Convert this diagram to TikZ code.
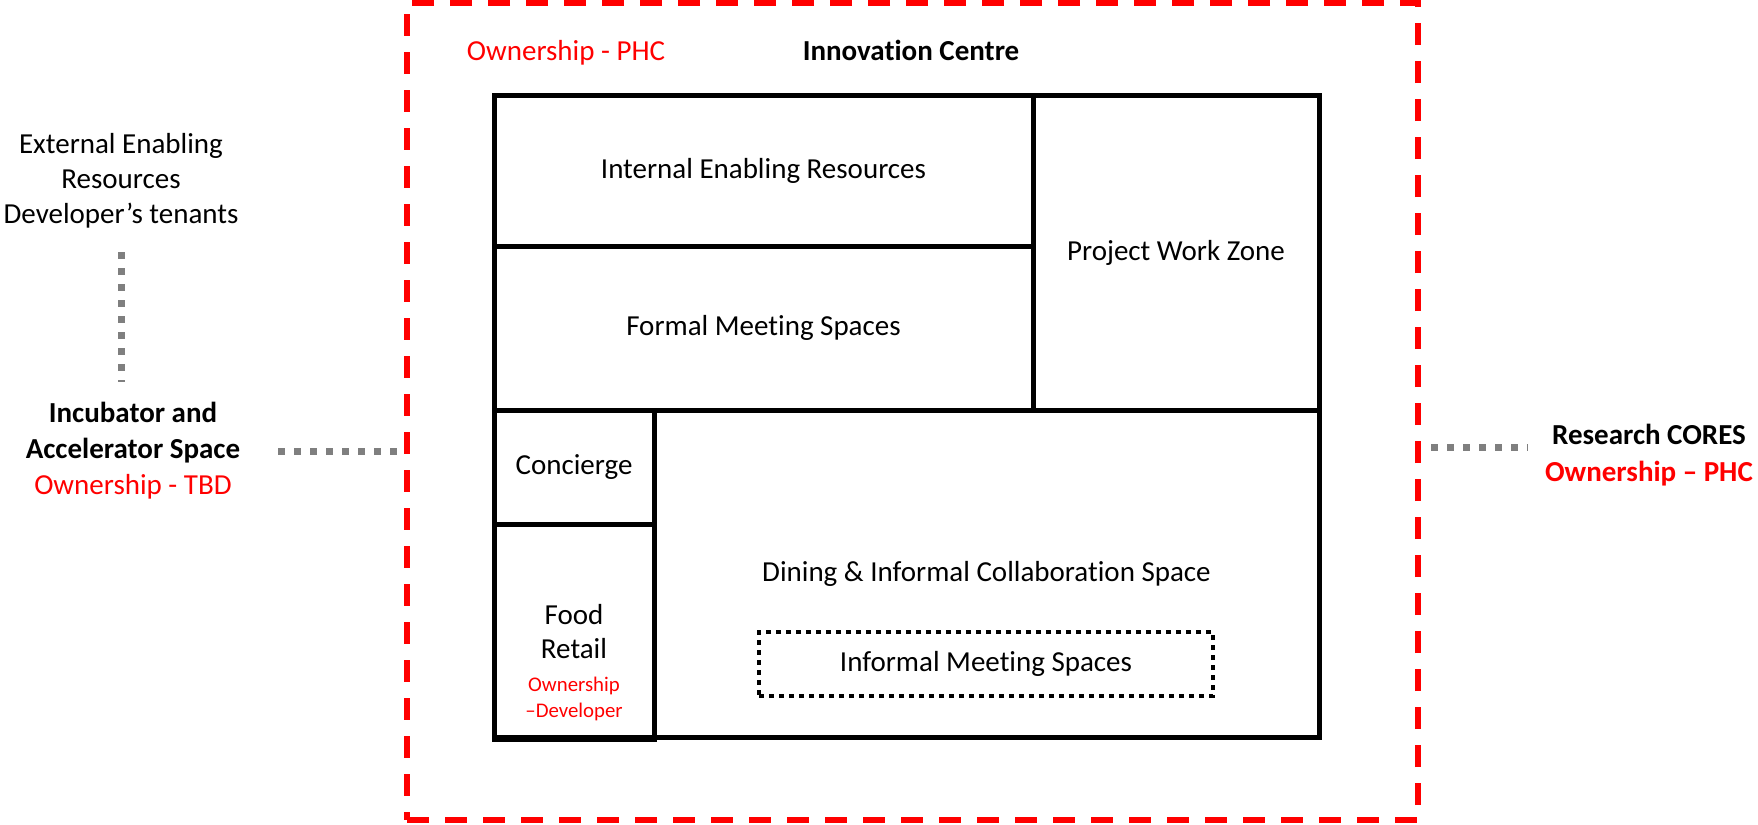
\documentclass[tikz,border=0pt]{standalone}
\usepackage{fontspec}
\setmainfont{Carlito}[Ligatures=NoCommon]
\definecolor{pred}{RGB}{255,0,0}
\definecolor{pgray}{RGB}{127,127,127}
\begin{document}
\begin{tikzpicture}[x=0.5pt,y=-0.5pt,
  every node/.style={inner sep=0pt, outer sep=0pt, align=center, font=\fontsize{14.5}{17.6}\selectfont},
  room/.style={draw=black, line width=2.5pt, rectangle},
  dotroom/.style={draw=black, line width=2.2pt, rectangle, dash pattern=on 2.3pt off 2.7pt},
  frame/.style={draw=pred, line width=3pt, rectangle, dash pattern=on 11pt off 8pt},
  gconn/.style={draw=pgray, line width=3.5pt, dash pattern=on 3.5pt off 4.5pt},
  redtxt/.style={text=pred}]
\useasboundingbox (0,0) rectangle (1758,825);

% outer dashed frame
\node[frame, minimum width=505.5pt, minimum height=408.5pt] (frame) at (912.5,411.5) {};

% headings
\node[redtxt] (ownphc) at (566,53) {Ownership - PHC};
\node[font=\fontsize{14.5}{17.6}\selectfont\bfseries] (title) at (911,50) {Innovation Centre};

% rooms
\node[room, minimum width=412.5pt, minimum height=321pt] (ic) at (906.5,416) {};
\node[room, minimum width=269.5pt, minimum height=75.5pt] (ier) at (763.5,170.5) {Internal Enabling Resources};
\node[room, minimum width=269.5pt, minimum height=82pt] (fms) at (763.5,328) {Formal Meeting Spaces};
\node[room, minimum width=143pt, minimum height=157.5pt] (pwz) at (1176,252.5) {Project Work Zone};
\node[room, minimum width=80pt, minimum height=57pt] (conc) at (574,467) {Concierge};
\node[room, minimum width=80pt, minimum height=107.5pt] (food) at (574,631.5) {};
\node[room, minimum width=332.5pt, minimum height=163.5pt] (din) at (986.5,573.5) {Dining \& Informal Collaboration Space};
\node[dotroom, minimum width=227pt, minimum height=32pt] (imf) at (986,664) {Informal Meeting Spaces};

% food retail text
\node[font=\fontsize{14.5}{17}\selectfont] (foodtxt) at (574,632) {Food\\Retail};
\node[redtxt, font=\fontsize{10.4}{12.8}\selectfont] (foodown) at (574,699) {Ownership\\–Developer};

% side labels
\node[font=\fontsize{14.5}{17.5}\selectfont] (ext) at (121,181) {External Enabling\\Resources\\Developer’s tenants};
\node[font=\fontsize{14.5}{18}\selectfont\bfseries] (incub) at (133,451) {Incubator and\\Accelerator Space\\{\mdseries\color{pred}Ownership - TBD}};
\node[font=\fontsize{14.5}{18.5}\selectfont\bfseries] (cores) at (1649,455.5) {Research CORES\\{\color{pred}Ownership – PHC}};

% connectors
\draw[gconn, shorten <=12pt, shorten >=10pt] (ext.south) -- (ext.south |- incub.north);
\draw[gconn, shorten <=19pt, shorten >=5pt] (incub.east) -- (incub.east -| frame.west);
\coordinate (rc) at ([yshift=4.25pt]cores.west);
\draw[gconn, shorten <=6.5pt, shorten >=9pt] (rc -| frame.east) -- (rc);
\end{tikzpicture}
\end{document}
